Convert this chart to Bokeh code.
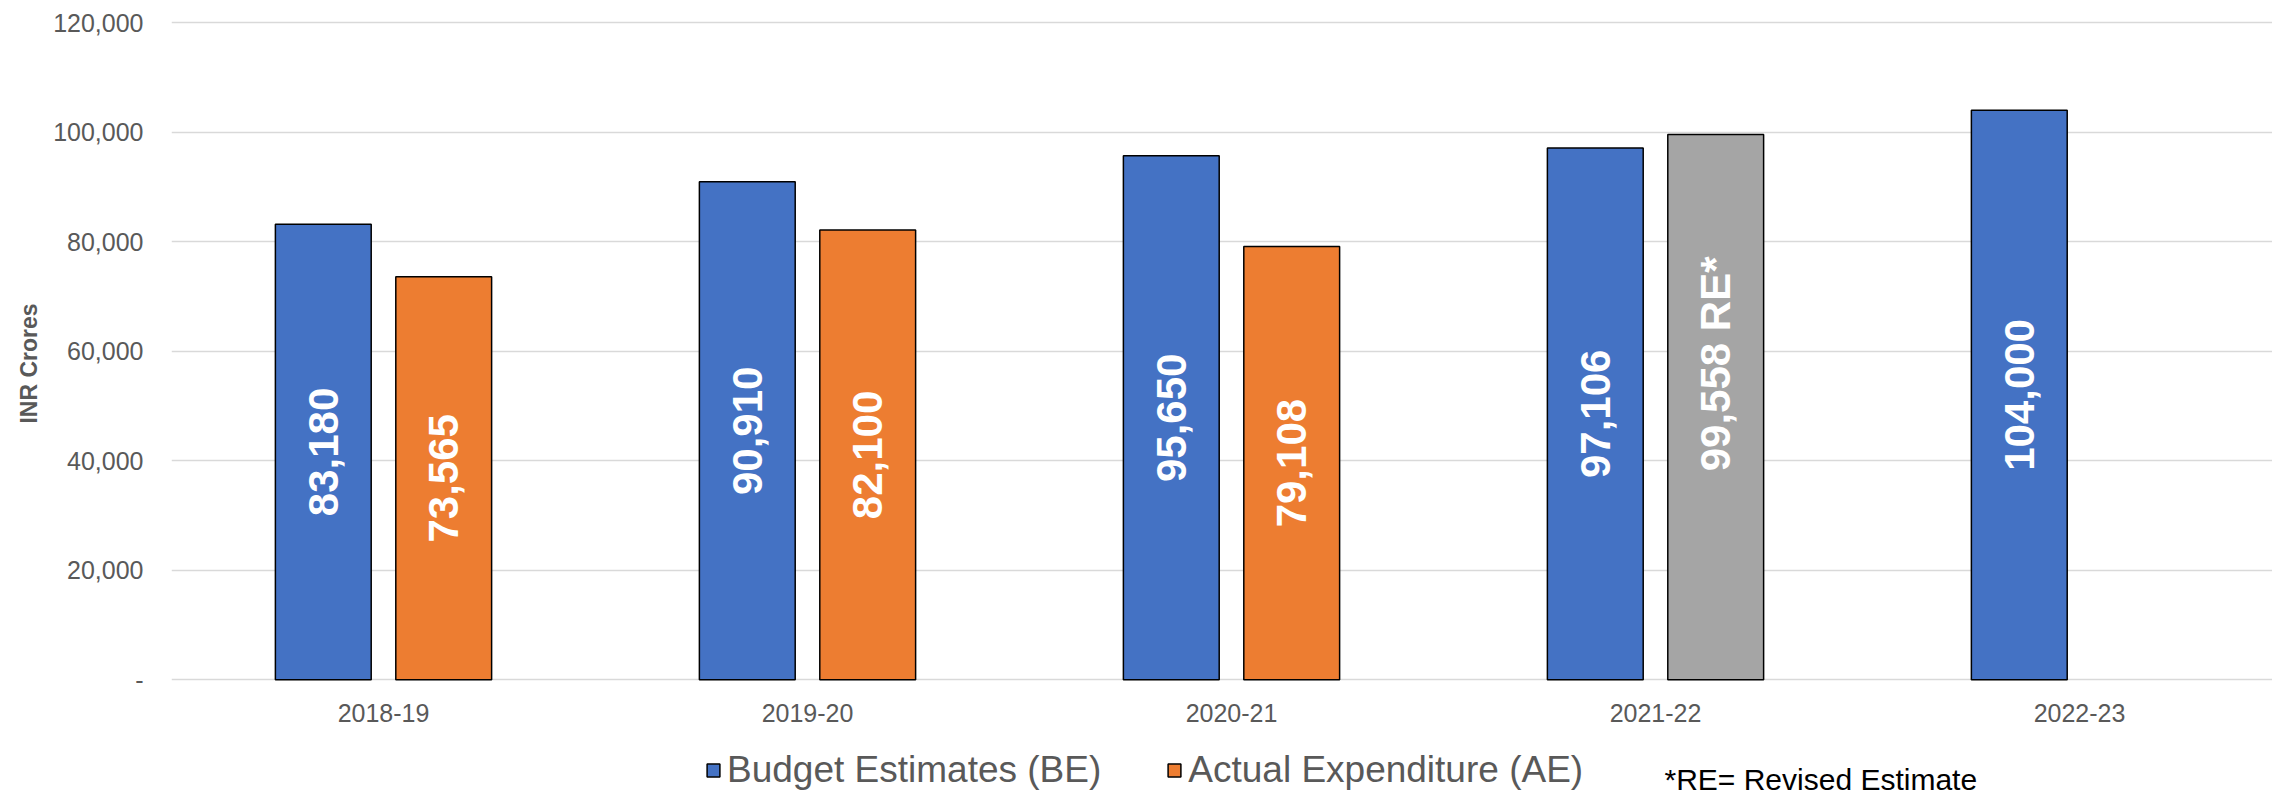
import math
from bokeh.plotting import figure
from bokeh.layouts import column
from bokeh.models import (ColumnDataSource, FixedTicker, NumeralTickFormatter, Range1d,
                          Legend, LegendItem, Label)
from bokeh.transform import dodge
from bokeh.core.properties import value
from bokeh.embed import file_html
from bokeh.resources import INLINE

# ---------------- data ----------------
years = ["2018-19", "2019-20", "2020-21", "2021-22", "2022-23"]
be_values = [83180, 90910, 95650, 97106, 104000]          # Budget Estimates
ae_values = [73565, 82100, 79108, 99558]                   # Actual Expenditure (last = Revised Estimate)
ae_kind = ["AE", "AE", "AE", "RE"]
y_ticks = [0, 20000, 40000, 60000, 80000, 100000, 120000]
legend_labels = ["Budget Estimates (BE)", "Actual Expenditure (AE)"]
note_text = "*RE= Revised Estimate"
y_title = "INR Crores"

# ---------------- style ----------------
FONT = "Liberation Sans"
BE_COLOR = "#4472C4"
AE_COLOR = "#ED7D31"
RE_COLOR = "#A5A5A5"
GREY_TEXT = "#595959"
GRID = "#D9D9D9"
LABEL_PX = 42
OFFSET = 0.142
BAR_W = 0.226

be_src = ColumnDataSource(dict(
    x=list(range(len(be_values))),
    top=be_values,
    mid=[v / 2 for v in be_values],
    label=[f"{v:,}" for v in be_values],
    yoff=[0] * len(be_values),
))

ae_labels, ae_colors, ae_yoff = [], [], []
for v, k in zip(ae_values, ae_kind):
    if k == "RE":
        ae_labels.append(f"{v:,} RE*")
        ae_colors.append(RE_COLOR)
        # keep the number centred; suffix " RE*" (~2.06em bold) extends above
        ae_yoff.append(-2.06 * LABEL_PX / 2)
    else:
        ae_labels.append(f"{v:,}")
        ae_colors.append(AE_COLOR)
        ae_yoff.append(0)

ae_src = ColumnDataSource(dict(
    x=list(range(len(ae_values))),
    top=ae_values,
    mid=[v / 2 for v in ae_values],
    label=ae_labels,
    color=ae_colors,
    yoff=ae_yoff,
))

W = 2272
H1, H2 = 730, 62
LEFT = 171
TOP = 12
frame_bottom = 682
frame_w = W - LEFT
p = figure(width=W, height=H1, output_backend="svg", toolbar_location=None,
           x_range=Range1d(-0.5, -0.5 + frame_w / 424.0),
           y_range=Range1d(-500, 121826),
           min_border_left=LEFT, min_border_right=0, min_border_top=TOP,
           min_border_bottom=H1 - frame_bottom)
p.outline_line_color = None
p.background_fill_color = "white"
p.border_fill_color = "white"

# grid
p.xgrid.visible = False
p.ygrid.ticker = FixedTicker(ticks=y_ticks)
p.ygrid.grid_line_color = GRID
p.ygrid.grid_line_width = 1.5

# y axis
p.yaxis.ticker = FixedTicker(ticks=y_ticks)
p.yaxis.formatter = NumeralTickFormatter(format="0,0")
p.yaxis.major_label_overrides = {0: "-"}
p.yaxis.axis_line_color = None
p.yaxis.major_tick_line_color = None
p.yaxis.minor_tick_line_color = None
p.yaxis.major_label_text_font = FONT
p.yaxis.major_label_text_font_size = "25px"
p.yaxis.major_label_text_color = GREY_TEXT
p.yaxis.major_label_standoff = 22
# trailing no-break spaces nudge the centred title slightly down, as in the reference
p.yaxis.axis_label = y_title + "\u00a0" * 5
p.yaxis.axis_label_text_font = FONT
p.yaxis.axis_label_text_font_size = "23px"
p.yaxis.axis_label_text_font_style = "bold"
p.yaxis.axis_label_text_color = GREY_TEXT
p.yaxis.axis_label_standoff = 8

# x axis
p.xaxis.ticker = FixedTicker(ticks=list(range(len(years))))
p.xaxis.major_label_overrides = {i: y for i, y in enumerate(years)}
p.xaxis.axis_line_color = None
p.xaxis.major_tick_line_color = None
p.xaxis.minor_tick_line_color = None
p.xaxis.major_label_text_font = FONT
p.xaxis.major_label_text_font_size = "25px"
p.xaxis.major_label_text_color = GREY_TEXT
p.xaxis.major_label_standoff = 15

# bars
be_r = p.vbar(x=dodge("x", -OFFSET), top="top", bottom=0, width=BAR_W, source=be_src,
              fill_color=BE_COLOR, line_color="black", line_width=1.5)
ae_r = p.vbar(x=dodge("x", OFFSET), top="top", bottom=0, width=BAR_W, source=ae_src,
              fill_color="color", line_color="black", line_width=1.5)

# bar labels
for src, off in ((be_src, -OFFSET), (ae_src, OFFSET)):
    p.text(x=dodge("x", off), y="mid", text="label", source=src,
           angle=math.pi / 2, text_align="center", text_baseline="middle",
           text_color="white", text_font=value(FONT), text_font_style="bold",
           text_font_size=f"{LABEL_PX}px", y_offset="yoff")

# ---------------- footer with legend and note ----------------
f = figure(width=W, height=H2, output_backend="svg", toolbar_location=None,
           x_range=Range1d(0, W - LEFT), y_range=Range1d(0, H2),
           x_axis_type=None, y_axis_type=None,
           min_border_left=LEFT, min_border_right=0, min_border_top=0, min_border_bottom=0)
f.outline_line_color = None
f.grid.visible = False
f.background_fill_color = "white"
f.border_fill_color = "white"

# hidden renderers that carry the series styles for the legend swatches
sw_be = f.vbar(x="x", top="top", width=BAR_W, source=be_src, fill_color=BE_COLOR,
               line_color="black", line_width=1.5, visible=False)
sw_ae = f.vbar(x="x", top="top", width=BAR_W, source=ae_src, fill_color=AE_COLOR,
               line_color="black", line_width=1.5, visible=False)

legend = Legend(items=[
    LegendItem(label=legend_labels[0], renderers=[sw_be]),
    LegendItem(label=legend_labels[1], renderers=[sw_ae]),
])
legend.orientation = "horizontal"
legend.click_policy = "none"
legend.label_text_font = FONT
legend.label_text_font_size = "37px"
legend.label_text_color = GREY_TEXT
legend.glyph_width = 16
legend.glyph_height = 16
legend.label_standoff = 6
legend.spacing = 65
legend.padding = 0
legend.margin = 0
legend.border_line_color = None
legend.background_fill_alpha = 0
legend.location = (534, 1)
f.add_layout(legend)

note = Label(x=1493, y=13, x_units="screen", y_units="screen",
             text=note_text, text_font=FONT, text_font_size="30px",
             text_color="black", text_baseline="alphabetic", text_align="left")
f.add_layout(note)

layout = column(p, f, spacing=0)
open("out.html", "w").write(file_html(layout, INLINE))
